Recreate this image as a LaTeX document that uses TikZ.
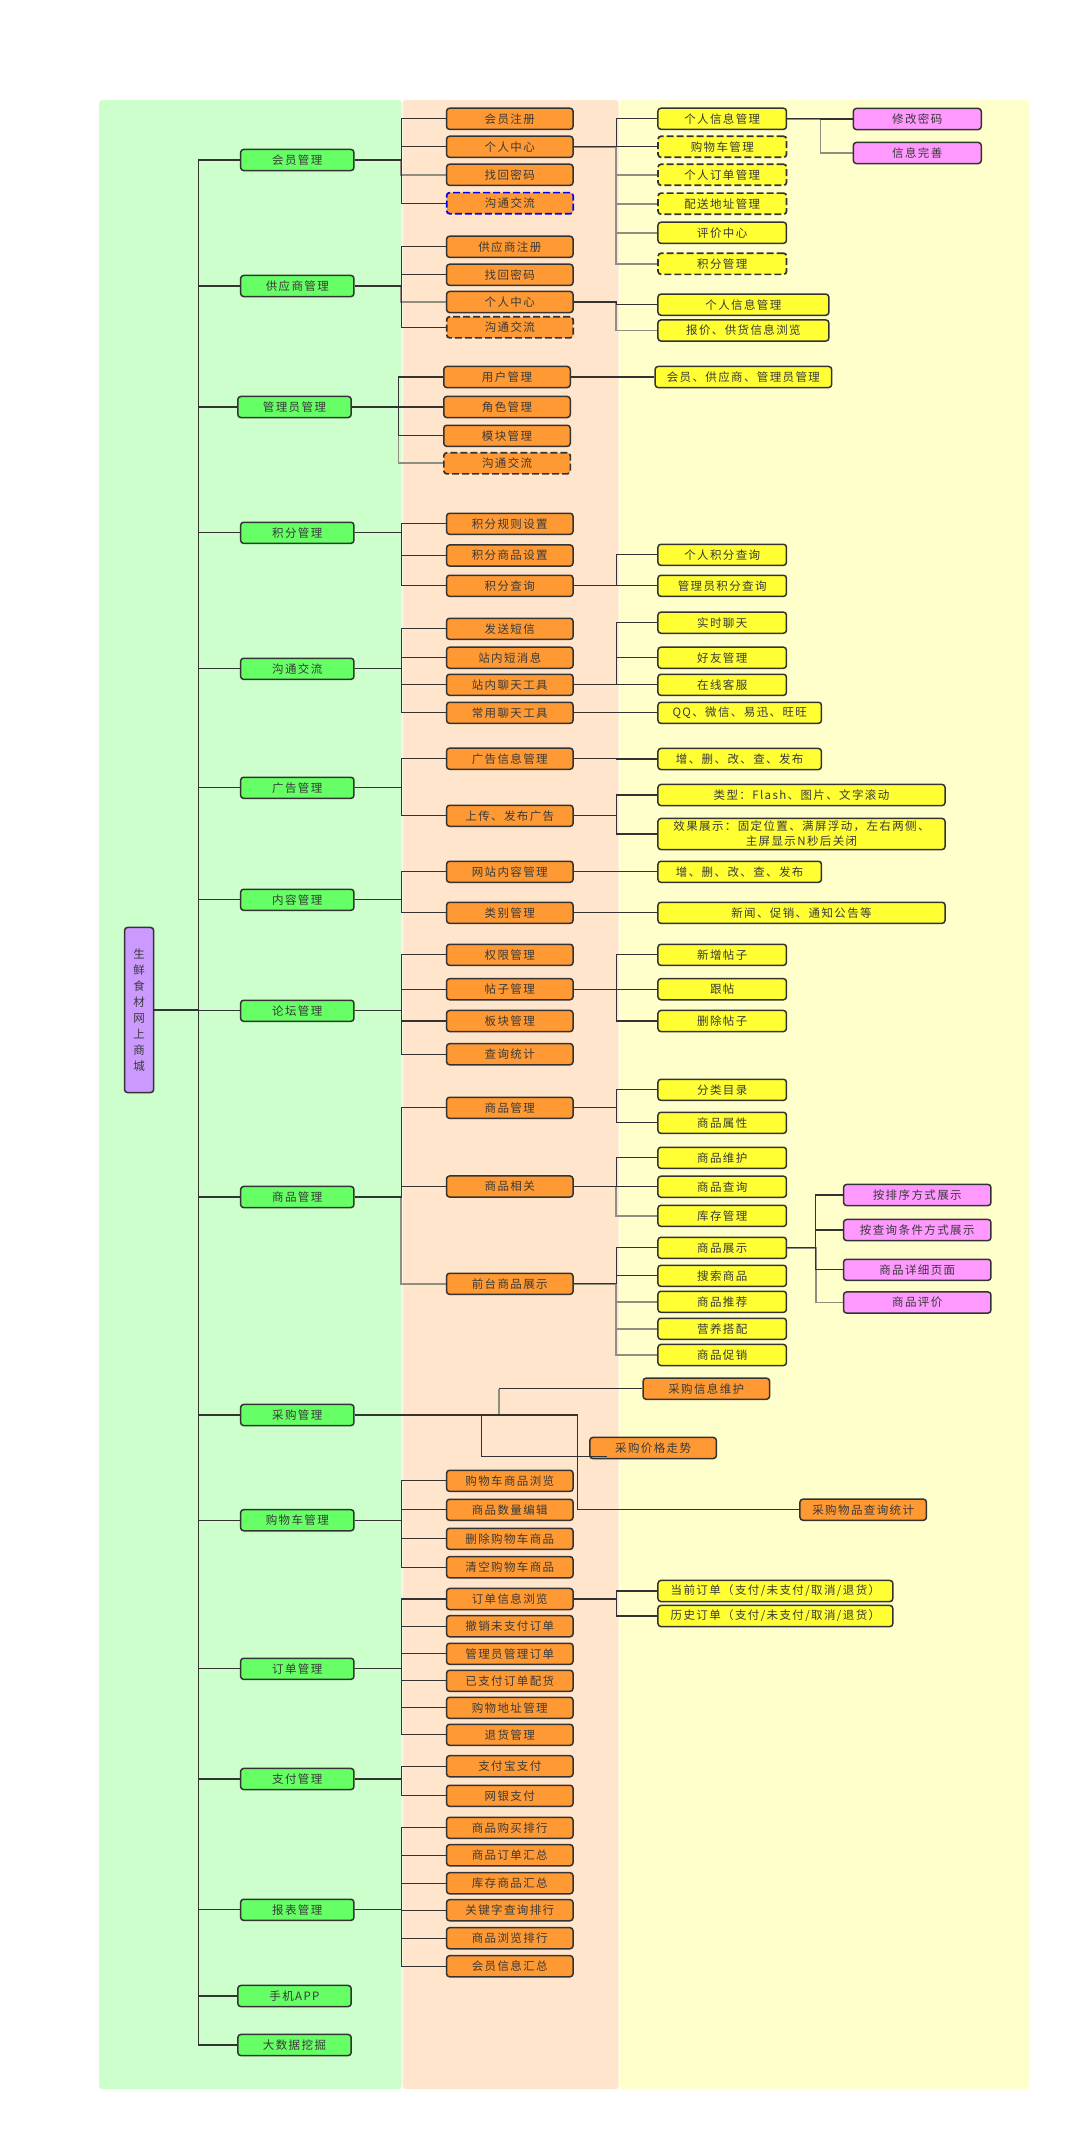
\documentclass[tikz,border=0pt]{standalone}
\usepackage{fontspec}
\newfontfamily\cjkf[LetterSpace=12]{Noto Sans CJK SC}
\pgfdeclarelayer{bands}
\pgfdeclarelayer{edges}
\pgfsetlayers{bands,edges,main}
\definecolor{bandG}{HTML}{CCFFCC}
\definecolor{bandO}{HTML}{FFE5CC}
\definecolor{bandY}{HTML}{FFFFCC}
\definecolor{nG}{HTML}{66FF66}
\definecolor{nO}{HTML}{FF9933}
\definecolor{nY}{HTML}{FFFF33}
\definecolor{nP}{HTML}{FF99FF}
\definecolor{nR}{HTML}{CC99FF}
\definecolor{lineC}{HTML}{333333}
\definecolor{grayC}{HTML}{8F8F80}
\definecolor{txtC}{HTML}{3A3A3A}
\newcommand\edgeto[4][con]{\draw[#1] (#2.east) -- (#2.east -| #3) |- (#4.west);}
\begin{document}
\begin{tikzpicture}[x=1pt,y=-1pt,
  box/.style={draw=lineC, line width=1.5pt, rounded corners=3pt, inner sep=0pt,
    minimum height=21.1pt, anchor=west, text=txtC,
    font=\cjkf\fontsize{11.5}{15}\selectfont, align=center},
  L1/.style={box, fill=nG, minimum width=113.3pt},
  L2/.style={box, fill=nO, minimum width=126.5pt},
  L3/.style={box, fill=nY, minimum width=128.5pt},
  L4/.style={box, fill=nP, minimum width=127.9pt},
  dsh/.style={dash pattern=on 7pt off 3pt, line width=1.7pt},
  con/.style={draw=lineC, line width=1.2pt},
  gcon/.style={draw=grayC, line width=1.7pt}]
\useasboundingbox (0,0) rectangle (1090,2151);
\begin{pgfonlayer}{bands}
\fill[bandG, rounded corners=3pt] (99,100) rectangle (401.6,2089);
\fill[bandO, rounded corners=3pt] (402.6,100) rectangle (618.6,2089);
\fill[bandY, rounded corners=3pt] (619.6,100) rectangle (1029.3,2089);
\end{pgfonlayer}
% bus coordinates
\coordinate (B0) at (198.2,0);
\coordinate (B1) at (401.3,0);
\coordinate (B1b) at (398.5,0);
\coordinate (B2) at (616.3,0);
\coordinate (B3) at (820.6,0);
\coordinate (B3b) at (815.7,0);
\coordinate (Q1) at (498.8,0);
\coordinate (Q2) at (481.6,0);
\coordinate (Q3) at (577.7,0);
% root
\node[box, fill=nR, minimum width=29.1pt, minimum height=165.1pt,
  font=\cjkf\fontsize{11.5}{16}\selectfont] (root) at (123.8,1010) {生\\鲜\\食\\材\\网\\上\\商\\城};
% level 1
\node[L1] (g1) at (239.9,160) {会员管理};
\node[L1] (g2) at (239.9,286) {供应商管理};
\node[L1] (g3) at (237.1,407) {管理员管理};
\node[L1] (g4) at (239.9,532.8) {积分管理};
\node[L1] (g5) at (239.9,668.8) {沟通交流};
\node[L1] (g6) at (239.9,787.8) {广告管理};
\node[L1] (g7) at (239.9,899.8) {内容管理};
\node[L1] (g8) at (239.9,1010.8) {论坛管理};
\node[L1] (g9) at (239.9,1197) {商品管理};
\node[L1] (g10) at (239.9,1415) {采购管理};
\node[L1] (g11) at (239.9,1520.2) {购物车管理};
\node[L1] (g12) at (239.9,1668.8) {订单管理};
\node[L1] (g13) at (239.9,1779) {支付管理};
\node[L1] (g14) at (239.9,1909.8) {报表管理};
\node[L1] (g15) at (237.1,1996) {手机APP};
\node[L1] (g16) at (237.1,2045) {大数据挖掘};
% level 2
\node[L2] (a1) at (445.8,118.8) {会员注册};
\node[L2] (a2) at (445.8,146.8) {个人中心};
\node[L2] (a3) at (445.8,174.8) {找回密码};
\node[L2, draw=blue, dsh] (a4) at (445.8,203.2) {沟通交流};
\node[L2] (b1) at (445.8,246.8) {供应商注册};
\node[L2] (b2) at (445.8,274.8) {找回密码};
\node[L2] (b3) at (445.8,302) {个人中心};
\node[L2, dsh] (b4) at (445.8,327.3) {沟通交流};
\node[L2] (c1) at (443,377) {用户管理};
\node[L2] (c2) at (443,407) {角色管理};
\node[L2] (c3) at (443,435.8) {模块管理};
\node[L2, dsh] (c4) at (443,463.3) {沟通交流};
\node[L2] (d1) at (445.8,523.8) {积分规则设置};
\node[L2] (d2) at (445.8,555.5) {积分商品设置};
\node[L2] (d3) at (445.8,585.8) {积分查询};
\node[L2] (e1) at (445.8,628.8) {发送短信};
\node[L2] (e2) at (445.8,657.7) {站内短消息};
\node[L2] (e3) at (445.8,684.8) {站内聊天工具};
\node[L2] (e4) at (445.8,712.8) {常用聊天工具};
\node[L2] (f1) at (445.8,758.7) {广告信息管理};
\node[L2] (f2) at (445.8,815.8) {上传、发布广告};
\node[L2] (h1) at (445.8,871.8) {网站内容管理};
\node[L2] (h2) at (445.8,912.8) {类别管理};
\node[L2] (i1) at (445.8,954.8) {权限管理};
\node[L2] (i2) at (445.8,989.2) {帖子管理};
\node[L2] (i3) at (445.8,1021) {板块管理};
\node[L2] (i4) at (445.8,1054.2) {查询统计};
\node[L2] (j1) at (445.8,1107.8) {商品管理};
\node[L2] (j2) at (445.8,1186.5) {商品相关};
\node[L2] (j3) at (445.8,1283.8) {前台商品展示};
\node[L2] (k1) at (445.8,1480.8) {购物车商品浏览};
\node[L2] (k2) at (445.8,1509.8) {商品数量编辑};
\node[L2] (k3) at (445.8,1538.8) {删除购物车商品};
\node[L2] (k4) at (445.8,1567.2) {清空购物车商品};
\node[L2] (m1) at (445.8,1599) {订单信息浏览};
\node[L2] (m2) at (445.8,1626.2) {撤销未支付订单};
\node[L2] (m3) at (445.8,1653.8) {管理员管理订单};
\node[L2] (m4) at (445.8,1680.8) {已支付订单配货};
\node[L2] (m5) at (445.8,1707.8) {购物地址管理};
\node[L2] (m6) at (445.8,1734.8) {退货管理};
\node[L2] (n1) at (445.8,1766.2) {支付宝支付};
\node[L2] (n2) at (445.8,1795.8) {网银支付};
\node[L2] (p1) at (445.8,1827.8) {商品购买排行};
\node[L2] (p2) at (445.8,1855.2) {商品订单汇总};
\node[L2] (p3) at (445.8,1883.2) {库存商品汇总};
\node[L2] (p4) at (445.8,1910.2) {关键字查询排行};
\node[L2] (p5) at (445.8,1938.2) {商品浏览排行};
\node[L2] (p6) at (445.8,1966.2) {会员信息汇总};
% purchase
\node[L2] (q1) at (642.3,1388.7) {采购信息维护};
\node[L2] (q2) at (589.1,1448) {采购价格走势};
\node[L2] (q3) at (799.2,1509.7) {采购物品查询统计};
% level 3
\node[L3] (a21) at (657.2,118.8) {个人信息管理};
\node[L3, dsh] (a22) at (657.2,146.8) {购物车管理};
\node[L3, dsh] (a23) at (657.2,174.8) {个人订单管理};
\node[L3, dsh] (a24) at (657.2,203.7) {配送地址管理};
\node[L3] (a25) at (657.2,232.8) {评价中心};
\node[L3, dsh] (a26) at (657.2,263.8) {积分管理};
\node[L3, minimum width=170.9pt] (b31) at (657.2,304.7) {个人信息管理};
\node[L3, minimum width=170.9pt] (b32) at (657.2,330.5) {报价、供货信息浏览};
\node[L3, minimum width=176.5pt] (c11) at (654.4,377) {会员、供应商、管理员管理};
\node[L3] (d31) at (657.2,554.8) {个人积分查询};
\node[L3] (d32) at (657.2,585.8) {管理员积分查询};
\node[L3] (e31) at (657.2,622.7) {实时聊天};
\node[L3] (e32) at (657.2,657.7) {好友管理};
\node[L3] (e33) at (657.2,684.8) {在线客服};
\node[L3, minimum width=163.5pt] (e41) at (657.2,712.8) {QQ、微信、易迅、旺旺};
\node[L3, minimum width=163.5pt] (f11) at (657.2,759) {增、删、改、查、发布};
\node[L3, minimum width=287.1pt] (f21) at (657.2,795) {类型：Flash、图片、文字滚动};
\node[L3, minimum width=287.1pt, minimum height=31.1pt] (f22) at (657.2,834) {效果展示：固定位置、满屏浮动，左右两侧、\\主屏显示N秒后关闭};
\node[L3, minimum width=163.5pt] (h11) at (657.2,871.8) {增、删、改、查、发布};
\node[L3, minimum width=287.1pt] (h21) at (657.2,912.8) {新闻、促销、通知公告等};
\node[L3] (i21) at (657.2,954.8) {新增帖子};
\node[L3] (i22) at (657.2,989.2) {跟帖};
\node[L3] (i23) at (657.2,1021) {删除帖子};
\node[L3] (j11) at (657.2,1089.8) {分类目录};
\node[L3] (j12) at (657.2,1122.8) {商品属性};
\node[L3] (j21) at (657.2,1157.8) {商品维护};
\node[L3] (j22) at (657.2,1186.7) {商品查询};
\node[L3] (j23) at (657.2,1215.8) {库存管理};
\node[L3] (j31) at (657.2,1247.8) {商品展示};
\node[L3] (j32) at (657.2,1275.8) {搜索商品};
\node[L3] (j33) at (657.2,1301.8) {商品推荐};
\node[L3] (j34) at (657.2,1328.8) {营养搭配};
\node[L3] (j35) at (657.2,1355) {商品促销};
\node[L3, minimum width=234.9pt] (m11) at (657.2,1591) {当前订单（支付/未支付/取消/退货）};
\node[L3, minimum width=234.9pt] (m12) at (657.2,1616) {历史订单（支付/未支付/取消/退货）};
% level 4
\node[L4] (a211) at (852.6,119) {修改密码};
\node[L4] (a212) at (852.6,153) {信息完善};
\node[L4, minimum width=147.4pt] (j311) at (842.8,1195) {按排序方式展示};
\node[L4, minimum width=147.4pt] (j312) at (842.8,1230) {按查询条件方式展示};
\node[L4, minimum width=147.4pt] (j313) at (842.8,1269.8) {商品详细页面};
\node[L4, minimum width=147.4pt] (j314) at (842.8,1302.5) {商品评价};
% connectors
\begin{pgfonlayer}{edges}
% gray ones first
\edgeto[gcon]{g1}{B1}{a3}
\edgeto[gcon]{a2}{B2}{a23}
\edgeto[gcon]{a2}{B2}{a24}
\edgeto[gcon]{a2}{B2}{a25}
\edgeto[gcon]{a2}{B2}{a26}
\edgeto[gcon]{a21}{B3}{a212}
\edgeto[gcon]{g2}{B1}{b3}
\edgeto[gcon]{b3}{B2}{b32}
\edgeto[gcon]{g3}{B1b}{c4}
\edgeto[gcon]{g9}{B1}{j3}
\edgeto[gcon]{j2}{B2}{j23}
\edgeto[gcon]{j3}{B2}{j33}
\edgeto[gcon]{j3}{B2}{j34}
\edgeto[gcon]{j3}{B2}{j35}
\edgeto[gcon]{j31}{B3b}{j314}
\draw[gcon] (g10.east -| Q1) -- (q1.west -| Q1);
% root
\foreach \c in {g1,g2,g3,g4,g5,g6,g7,g8,g9,g10,g11,g12,g13,g14,g15,g16}
  {\draw[con] (root.east) -- (root.east -| B0) |- (\c.west);}
% level 1 -> level 2
\foreach \c in {a1,a2,a4} {\edgeto{g1}{B1}{\c}}
\foreach \c in {b1,b2,b4} {\edgeto{g2}{B1}{\c}}
\foreach \c in {c1,c2,c3} {\edgeto{g3}{B1b}{\c}}
\foreach \c in {d1,d2,d3} {\edgeto{g4}{B1}{\c}}
\foreach \c in {e1,e2,e3,e4} {\edgeto{g5}{B1}{\c}}
\foreach \c in {f1,f2} {\edgeto{g6}{B1}{\c}}
\foreach \c in {h1,h2} {\edgeto{g7}{B1}{\c}}
\foreach \c in {i1,i2,i3,i4} {\edgeto{g8}{B1}{\c}}
\foreach \c in {j1,j2} {\edgeto{g9}{B1}{\c}}
\foreach \c in {k1,k2,k3,k4} {\edgeto{g11}{B1}{\c}}
\foreach \c in {m1,m2,m3,m4,m5,m6} {\edgeto{g12}{B1}{\c}}
\foreach \c in {n1,n2} {\edgeto{g13}{B1}{\c}}
\foreach \c in {p1,p2,p3,p4,p5,p6} {\edgeto{g14}{B1}{\c}}
% purchase
\draw[con] (g10.east) -- (g10.east -| Q3) |- (q3.west);
\draw[con] (q1.west -| Q1) -- (q1.west);
% level 2 -> level 3
\foreach \c in {a21,a22} {\edgeto{a2}{B2}{\c}}
\edgeto{b3}{B2}{b31}
\edgeto{c1}{B2}{c11}
\foreach \c in {d31,d32} {\edgeto{d3}{B2}{\c}}
\foreach \c in {e31,e32,e33} {\edgeto{e3}{B2}{\c}}
\edgeto{e4}{B2}{e41}
\edgeto{f1}{B2}{f11}
\foreach \c in {f21,f22} {\edgeto{f2}{B2}{\c}}
\edgeto{h1}{B2}{h11}
\edgeto{h2}{B2}{h21}
\foreach \c in {i21,i22,i23} {\edgeto{i2}{B2}{\c}}
\foreach \c in {j11,j12} {\edgeto{j1}{B2}{\c}}
\foreach \c in {j21,j22} {\edgeto{j2}{B2}{\c}}
\foreach \c in {j31,j32} {\edgeto{j3}{B2}{\c}}
\foreach \c in {m11,m12} {\edgeto{m1}{B2}{\c}}
% level 3 -> level 4
\edgeto{a21}{B3}{a211}
\foreach \c in {j311,j312,j313} {\edgeto{j31}{B3b}{\c}}
\end{pgfonlayer}
% line drawn over the node 采购价格走势
\coordinate (q2end) at (607.1,1456.3);
\draw[con] (g10.east -| Q2) |- (q2end);
\end{tikzpicture}
\end{document}
